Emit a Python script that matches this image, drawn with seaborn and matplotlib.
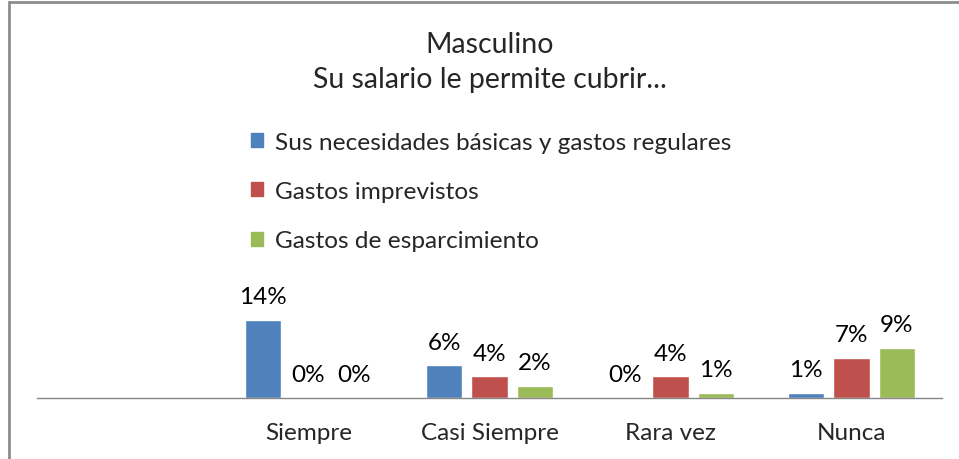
import pandas as pd
import numpy as np
import matplotlib.pyplot as plt
import seaborn as sns
from matplotlib.patches import Rectangle

# data (percent)
categorias = ["", "Siempre", "Casi Siempre", "Rara vez", "Nunca"]
series = ["Sus necesidades básicas y gastos regulares",
          "Gastos imprevistos",
          "Gastos de esparcimiento"]
basicas = [np.nan, 14.0, 5.9, 0.0, 0.9]
imprevistos = [np.nan, 0.0, 3.9, 3.9, 7.2]
esparcimiento = [np.nan, 0.0, 2.2, 0.9, 9.0]
colores = ["#4F81BD", "#C0504D", "#9BBB59"]

df = pd.DataFrame({
    "Categoria": categorias * 3,
    "Serie": [series[0]] * 5 + [series[1]] * 5 + [series[2]] * 5,
    "Valor": basicas + imprevistos + esparcimiento,
})

sns.set_style("white")
plt.rcParams['font.family'] = ['Lato', 'DejaVu Sans']

fig = plt.figure(figsize=(9.59, 4.6), dpi=100)
W, H = 959, 460
# axes: x from 37 to 942 px, baseline at y=399 px
ax = fig.add_axes([37 / W, 1 - 399 / H, 905 / W, 279 / H])

sns.barplot(data=df, x="Categoria", y="Valor", hue="Serie", order=categorias,
            hue_order=series, palette=colores, width=0.75, gap=0.2,
            saturation=1, ax=ax, legend=False)

for cont in ax.containers:
    ax.bar_label(cont, labels=[f"{v:.0f}%" for v in cont.datavalues],
                 padding=9, fontsize=17.5, color="#000000")

ax.set_ylim(0, 50)
ax.set_xlim(-0.5, 4.5)
ax.set_xlabel("")
ax.set_ylabel("")
ax.set_yticks([])
for s in ["top", "right", "left"]:
    ax.spines[s].set_visible(False)
ax.spines["bottom"].set_color("#868686")
ax.spines["bottom"].set_linewidth(1)
ax.tick_params(axis="x", length=0, pad=17, labelsize=17.5)

fig.text(490 / W, 1 - 45 / H, "Masculino", ha="center", va="center", fontsize=20.5)
fig.text(490 / W, 1 - 80 / H, "Su salario le permite cubrir...", ha="center",
         va="center", fontsize=20.5)

# legend, vertical
handles = [Rectangle((0, 0), 1, 1, color=c) for c in colores]
fig.legend(handles, series, loc="upper left", bbox_to_anchor=(251 / W, 1 - 133 / H),
           frameon=False, fontsize=17.6, handlelength=0.5, handleheight=0.5,
           handletextpad=0.5, labelspacing=1.15, borderpad=0, borderaxespad=0)

# chart frame (cropped at right/bottom)
fig.patches.append(Rectangle((9 / W, -0.1), 1.2, 1 - 3 / H + 0.1,
                             transform=fig.transFigure, fill=False,
                             edgecolor="#8c8c8c", linewidth=2))

fig.savefig("out.png", dpi=100)
